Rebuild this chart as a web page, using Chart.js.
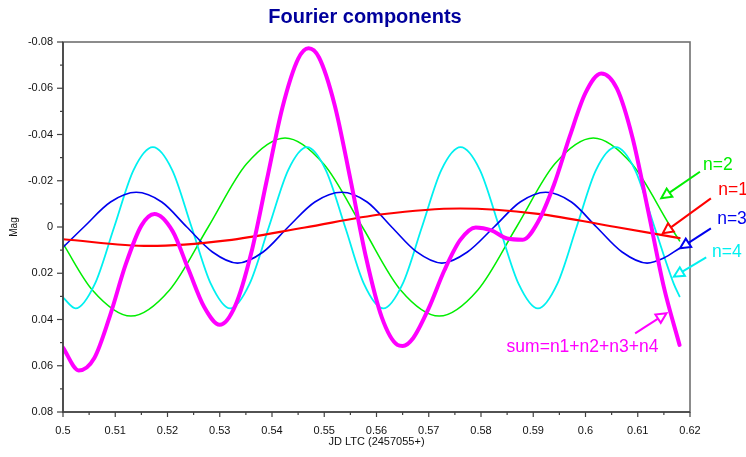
<!DOCTYPE html>
<html>
<head>
<meta charset="utf-8">
<script src="https://cdn.jsdelivr.net/npm/chart.js@4.4.1/dist/chart.umd.min.js"></script>
<style>
html,body{margin:0;padding:0;background:#fff;}
#wrap{width:746px;height:457px;position:relative;}
canvas{display:block;}
</style>
</head>
<body>
<div id="wrap"><canvas id="c" width="746" height="457"></canvas></div>
<script>
// ---------- texts ----------
const chartTitle = 'Fourier components';
const xAxisTitle = 'JD LTC (2457055+)';
const yAxisTitle = 'Mag';

// ---------- tick values ----------
const xTicks = [0.5,0.51,0.52,0.53,0.54,0.55,0.56,0.57,0.58,0.59,0.6,0.61,0.62];
const yTicks = [-0.08,-0.06,-0.04,-0.02,0,0.02,0.04,0.06,0.08];

// ---------- series ----------
const n1X = [0.5000,0.5165,0.5314,0.5463,0.5611,0.5760,0.5909,0.6058,0.6180];
const n1Y = [0.0053,0.0082,0.0058,0.0002,-0.0055,-0.0080,-0.0057,0.0000,0.0048];

const n2X = [0.5000,0.5056,0.5130,0.5204,0.5278,0.5351,0.5425,0.5499,0.5573,0.5646,0.5720,0.5794,0.5868,0.5941,0.6015,0.6089,0.6163,0.6180];
const n2Y = [0.0072,0.0272,0.0385,0.0272,0.0000,-0.0272,-0.0385,-0.0272,0.0000,0.0272,0.0385,0.0272,0.0000,-0.0272,-0.0385,-0.0272,0.0000,0.0060];

const n3X = [0.5000,0.5040,0.5091,0.5140,0.5189,0.5237,0.5286,0.5334,0.5383,0.5431,0.5482,0.5533,0.5582,0.5629,0.5677,0.5725,0.5774,0.5825,0.5875,0.5924,0.5973,0.6021,0.6070,0.6118,0.6150,0.6180];
const n3Y = [0.0088,0.0000,-0.0108,-0.0150,-0.0108,0.0000,0.0108,0.0156,0.0108,0.0000,-0.0108,-0.0150,-0.0108,0.0000,0.0108,0.0156,0.0108,0.0000,-0.0108,-0.0150,-0.0108,0.0000,0.0108,0.0156,0.0134,0.0092];

const n4X = [0.5000,0.5024,0.5061,0.5098,0.5135,0.5172,0.5209,0.5246,0.5283,0.5320,0.5357,0.5394,0.5431,0.5467,0.5503,0.5540,0.5576,0.5613,0.5650,0.5687,0.5724,0.5761,0.5798,0.5835,0.5872,0.5909,0.5946,0.5983,0.6020,0.6058,0.6095,0.6132,0.6169,0.6180];
const n4Y = [0.0305,0.0352,0.0246,0.0000,-0.0246,-0.0345,-0.0246,0.0000,0.0246,0.0352,0.0246,0.0000,-0.0246,-0.0345,-0.0246,0.0000,0.0246,0.0352,0.0246,0.0000,-0.0246,-0.0345,-0.0246,0.0000,0.0246,0.0352,0.0246,0.0000,-0.0246,-0.0345,-0.0246,0.0000,0.0246,0.0300];

const sumX = [0.500,0.503,0.506,0.509,0.512,0.515,0.5175,0.521,0.524,0.527,0.530,0.533,0.536,0.539,0.542,0.545,0.547,0.549,0.552,0.555,0.558,0.561,0.564,0.565,0.567,0.570,0.573,0.576,0.579,0.582,0.585,0.588,0.591,0.594,0.597,0.600,0.603,0.606,0.609,0.612,0.615,0.618];
const sumY = [0.0522,0.0620,0.0566,0.0383,0.0162,-0.0006,-0.0056,0.0019,0.0183,0.0345,0.0423,0.0339,0.0115,-0.0202,-0.0517,-0.0727,-0.0773,-0.0733,-0.0527,-0.0207,0.0132,0.0390,0.0510,0.0515,0.0481,0.0351,0.0187,0.0057,0.0002,0.0015,0.0050,0.0055,-0.0026,-0.0185,-0.0393,-0.0580,-0.0664,-0.0599,-0.0386,-0.0069,0.0260,0.0510];

// ---------- annotation labels (in data units) ----------
const labelTexts  = ['n=2','n=1','n=3','n=4','sum=n1+n2+n3+n4'];
const labelColors = ['#00EE00','#FF0000','#0000EE','#00F0F0','#FF00FF'];
const labelAt     = [[0.6225,-0.0268],[0.6254,-0.0160],[0.6252,-0.0035],[0.6242,0.0107],[0.5849,0.0518]];
const arrowFrom   = [[0.6219,-0.0239],[0.6240,-0.0124],[0.6240,0.0006],[0.6231,0.0131],[0.6095,0.0460]];
const arrowTo     = [[0.6145,-0.0124],[0.6148,0.0027],[0.6181,0.0092],[0.6169,0.0215],[0.6155,0.0373]];

const FONT = '"Liberation Sans", Arial, Helvetica, sans-serif';
const pts = (xs, ys) => xs.map((x, i) => ({x: x, y: ys[i]}));
const fmt = v => String(Number(Number(v).toFixed(4)));

const decor = {
  id: 'decor',
  afterDraw(chart) {
    const ctx = chart.ctx;
    const a = chart.chartArea;
    const xs = chart.scales.x, ys = chart.scales.y;
    ctx.save();
    // frame
    ctx.strokeStyle = '#707070';
    ctx.lineWidth = 1.6;
    ctx.strokeRect(a.left, a.top, a.right - a.left, a.bottom - a.top);
    ctx.strokeStyle = '#404040';
    ctx.beginPath();
    ctx.moveTo(a.left, a.top); ctx.lineTo(a.left, a.bottom); ctx.lineTo(a.right, a.bottom);
    ctx.stroke();
    // ticks (major + minor halfway)
    ctx.lineWidth = 1.2;
    for (let i = 0; i < yTicks.length; i++) {
      const py = ys.getPixelForValue(yTicks[i]);
      ctx.beginPath(); ctx.moveTo(a.left - 6, py); ctx.lineTo(a.left, py); ctx.stroke();
      if (i < yTicks.length - 1) {
        const pm = ys.getPixelForValue((yTicks[i] + yTicks[i + 1]) / 2);
        ctx.beginPath(); ctx.moveTo(a.left - 3, pm); ctx.lineTo(a.left, pm); ctx.stroke();
      }
    }
    for (let i = 0; i < xTicks.length; i++) {
      const px = xs.getPixelForValue(xTicks[i]);
      ctx.beginPath(); ctx.moveTo(px, a.bottom); ctx.lineTo(px, a.bottom + 5); ctx.stroke();
      if (i < xTicks.length - 1) {
        const pm = xs.getPixelForValue((xTicks[i] + xTicks[i + 1]) / 2);
        ctx.beginPath(); ctx.moveTo(pm, a.bottom); ctx.lineTo(pm, a.bottom + 3); ctx.stroke();
      }
    }
    // title
    ctx.fillStyle = '#00009C';
    ctx.font = 'bold 20px ' + FONT;
    ctx.textAlign = 'center';
    ctx.textBaseline = 'alphabetic';
    ctx.fillText(chartTitle, 365, 23);
    // annotations
    ctx.font = '17.5px ' + FONT;
    ctx.textAlign = 'left';
    ctx.textBaseline = 'middle';
    for (let i = 0; i < labelTexts.length; i++) {
      const c = labelColors[i];
      const tx = xs.getPixelForValue(labelAt[i][0]), ty = ys.getPixelForValue(labelAt[i][1]);
      ctx.fillStyle = c;
      ctx.fillText(labelTexts[i], tx, ty);
      const x0 = xs.getPixelForValue(arrowFrom[i][0]), y0 = ys.getPixelForValue(arrowFrom[i][1]);
      const x1 = xs.getPixelForValue(arrowTo[i][0]), y1 = ys.getPixelForValue(arrowTo[i][1]);
      const dx = x1 - x0, dy = y1 - y0, d = Math.hypot(dx, dy);
      const ux = dx / d, uy = dy / d, nx = -uy, ny = ux;
      const L = 10, W = 5;
      const bx = x1 - ux * L, by = y1 - uy * L;
      ctx.strokeStyle = c;
      ctx.lineWidth = 2;
      ctx.beginPath(); ctx.moveTo(x0, y0); ctx.lineTo(bx, by); ctx.stroke();
      ctx.beginPath();
      ctx.moveTo(x1, y1); ctx.lineTo(bx + nx * W, by + ny * W); ctx.lineTo(bx - nx * W, by - ny * W); ctx.closePath();
      ctx.fillStyle = '#fff'; ctx.fill(); ctx.stroke();
    }
    ctx.restore();
  }
};

new Chart(document.getElementById('c').getContext('2d'), {
  type: 'line',
  data: {
    datasets: [
      {label: 'sum', data: pts(sumX, sumY), borderColor: '#FF00FF', borderWidth: 4, order: 0},
      {label: 'n=1', data: pts(n1X, n1Y), borderColor: '#FF0000', borderWidth: 2.2, order: 1},
      {label: 'n=3', data: pts(n3X, n3Y), borderColor: '#0000EE', borderWidth: 1.6, order: 2},
      {label: 'n=4', data: pts(n4X, n4Y), borderColor: '#00F0F0', borderWidth: 1.8, order: 3},
      {label: 'n=2', data: pts(n2X, n2Y), borderColor: '#00EE00', borderWidth: 1.5, order: 4}
    ]
  },
  options: {
    responsive: false,
    animation: false,
    devicePixelRatio: 1,
    layout: {padding: {left: 0, right: 56, top: 42, bottom: 0}},
    elements: {
      point: {radius: 0, hoverRadius: 0},
      line: {cubicInterpolationMode: 'monotone', fill: false, borderCapStyle: 'round', borderJoinStyle: 'round'}
    },
    plugins: {legend: {display: false}, tooltip: {enabled: false}, title: {display: false}},
    scales: {
      x: {
        type: 'linear', min: 0.5, max: 0.62,
        afterBuildTicks: s => { s.ticks = xTicks.map(v => ({value: v})); },
        afterFit: s => { s.height = 45; },
        grid: {display: false, drawTicks: false},
        border: {display: false},
        ticks: {padding: 12, autoSkip: false, maxRotation: 0, color: '#111', font: {family: FONT, size: 11}, callback: v => fmt(v)},
        title: {display: true, text: xAxisTitle, color: '#111', font: {family: FONT, size: 11}, padding: {top: 0, bottom: 8}}
      },
      y: {
        type: 'linear', reverse: true, min: -0.08, max: 0.08,
        afterBuildTicks: s => { s.ticks = yTicks.map(v => ({value: v})); },
        afterFit: s => { s.width = 63; },
        grid: {display: false, drawTicks: false},
        border: {display: false},
        ticks: {padding: 10, color: '#111', font: {family: FONT, size: 11}, callback: v => fmt(v)},
        title: {display: true, text: yAxisTitle, color: '#111', font: {family: FONT, size: 10}, padding: {top: 8, bottom: 0}}
      }
    }
  },
  plugins: [decor]
});
</script>
</body>
</html>
